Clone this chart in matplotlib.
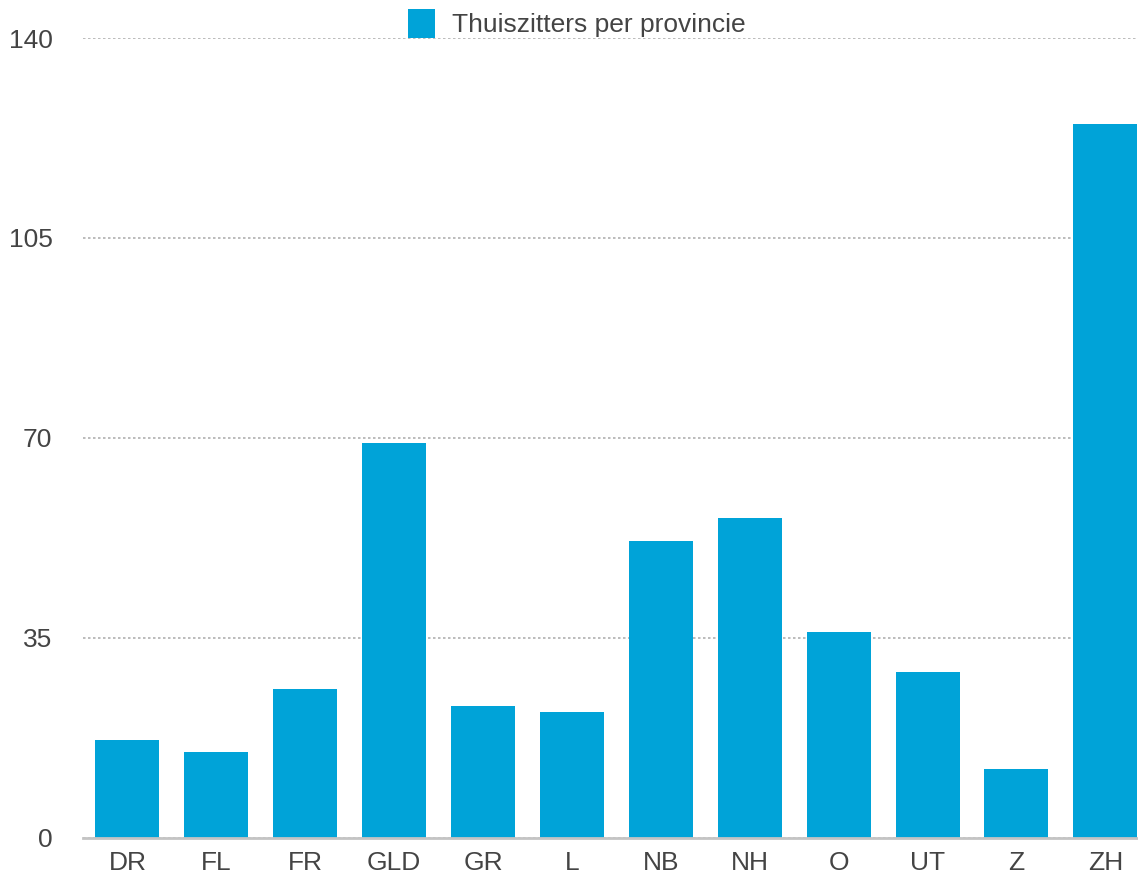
import matplotlib
matplotlib.use("Agg")
import matplotlib.pyplot as plt
import numpy as np

categories = ["DR", "FL", "FR", "GLD", "GR", "L", "NB", "NH", "O", "UT", "Z", "ZH"]
values = [17, 15, 26, 69, 23, 22, 52, 56, 36, 29, 12, 125]
yticks = [0, 35, 70, 105, 140]
series_name = "Thuiszitters per provincie"

plt.rcParams['font.family'] = ['Liberation Sans', 'DejaVu Sans']
W, H = 1138, 877
fig = plt.figure(figsize=(W / 100, H / 100), dpi=100)
left = 83 / W
bottom = (H - 837.5) / H
top = (H - 38) / H
right = (83 + 12 * 88.9) / W
ax = fig.add_axes([left, bottom, right - left, top - bottom])

x = np.arange(len(categories))
bars = ax.bar(x, values, width=0.72, color="#00A3D8", label=series_name, zorder=3)

ax.set_xlim(-0.5, len(categories) - 0.5)
ax.set_ylim(0, 140)
ax.set_yticks(yticks)
ax.set_yticklabels([str(v) for v in yticks])
ax.set_xticks(x)
ax.set_xticklabels(categories)

for s in ["top", "right", "left"]:
    ax.spines[s].set_visible(False)
ax.spines["bottom"].set_color("#c4c4c4")
ax.spines["bottom"].set_linewidth(2)
ax.spines["bottom"].set_zorder(4)

ax.tick_params(axis="both", length=0, labelsize=19, labelcolor="#444444")
ax.tick_params(axis="y", pad=22)
ax.tick_params(axis="x", pad=10)

ax.yaxis.grid(True, color="#b0b0b0", linestyle=(0, (1.5, 1.5)), linewidth=1.2, zorder=0)
ax.set_axisbelow(True)

leg = fig.legend(handles=[bars], labels=[series_name], loc="center",
                 bbox_to_anchor=(577 / W, (H - 23.5) / H), frameon=False,
                 fontsize=19, handlelength=1.02, handleheight=1.28,
                 handletextpad=0.65, borderpad=0, borderaxespad=0)
for t in leg.get_texts():
    t.set_color("#444444")

fig.savefig("out.png", dpi=100)
